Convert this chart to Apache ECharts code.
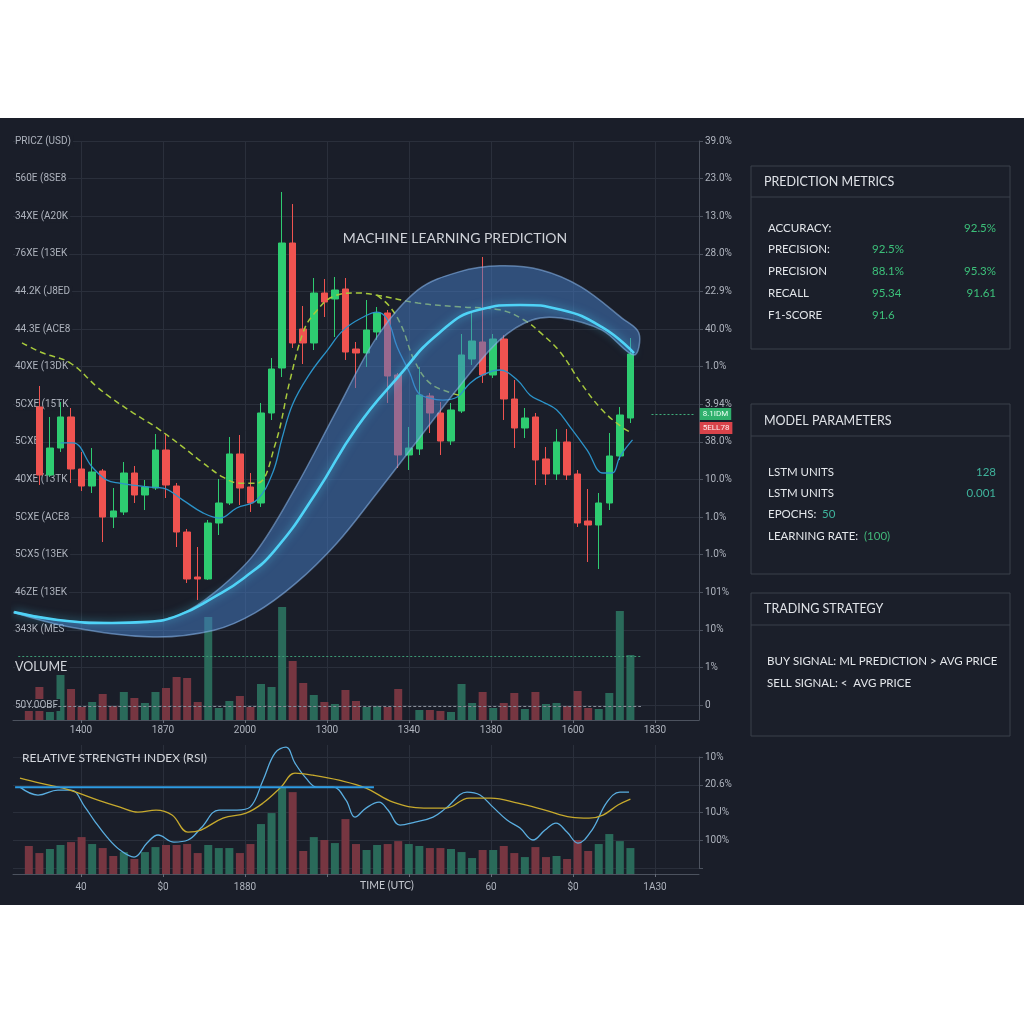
<!DOCTYPE html>
<html><head><meta charset="utf-8">
<script src="https://cdn.jsdelivr.net/npm/echarts@6/dist/echarts.min.js"></script>
<style>html,body{margin:0;padding:0;background:#ffffff;width:1024px;height:1024px;overflow:hidden}
#chart{position:absolute;left:0;top:118px;width:1024px;height:787px}</style>
</head><body><div id="chart"></div>
<script>
// ---------------- DATA ----------------
const categories = Array.from({length: 65}, (_, i) => 'T' + i);
const candleStart = 2;
// [open, close, low, high]
const candles = [
 [79.26, 61.17, 58.51, 84.84],[61.17, 68.35, 60.64, 76.60],[68.35, 76.60, 67.29, 80.59],[76.60, 62.77, 59.04, 78.99],
 [62.77, 58.24, 56.91, 67.29],[58.24, 61.97, 56.38, 68.35],[62.23, 50.00, 43.35, 62.77],[50.00, 51.60, 47.07, 57.71],
 [51.33, 61.70, 50.53, 64.63],[61.70, 55.85, 53.72, 63.56],[55.85, 57.98, 51.86, 59.84],[57.71, 67.82, 57.18, 72.07],
 [67.82, 58.51, 55.05, 72.07],[58.24, 46.01, 42.02, 59.04],[46.01, 33.51, 32.45, 46.81],[34.04, 33.51, 27.93, 42.02],
 [33.51, 48.40, 33.24, 49.20],[48.40, 53.72, 45.21, 60.11],[53.72, 66.76, 53.19, 71.28],[66.76, 57.71, 53.19, 71.81],
 [57.98, 53.72, 51.33, 61.70],[53.72, 77.66, 52.66, 80.32],[77.66, 89.36, 75.80, 92.29],[89.63, 122.87, 87.23, 136.44],
 [122.87, 96.28, 94.95, 133.24],[100.00, 96.28, 90.69, 106.12],[96.28, 109.57, 94.41, 113.56],[109.57, 107.18, 103.19, 113.30],
 [107.98, 110.37, 97.87, 113.83],[110.64, 93.88, 91.76, 113.56],[94.68, 93.62, 84.31, 96.54],[93.62, 99.73, 89.89, 107.71],
 [99.20, 104.26, 97.07, 105.85],[104.26, 87.50, 80.32, 105.05],[87.77, 66.49, 63.03, 88.30],[66.49, 68.35, 62.50, 73.94],
 [68.09, 82.45, 66.49, 89.89],[82.18, 77.66, 72.34, 82.98],[77.66, 70.21, 66.49, 80.59],[70.21, 78.46, 69.15, 80.32],
 [78.19, 93.09, 77.66, 98.67],[92.02, 96.81, 90.43, 104.26],[96.54, 87.77, 85.64, 119.15],[87.77, 97.34, 86.97, 98.67],
 [97.34, 81.38, 75.80, 98.40],[81.38, 73.67, 68.35, 86.44],[73.67, 76.33, 71.01, 78.99],[76.60, 65.16, 58.51, 77.66],
 [65.43, 61.44, 58.51, 68.62],[61.44, 69.95, 59.84, 73.40],[69.95, 61.17, 59.84, 73.40],[61.44, 48.40, 47.34, 62.50],
 [48.94, 47.87, 38.03, 57.45],[47.87, 53.72, 36.17, 56.38],[53.72, 66.22, 51.86, 72.34],[66.22, 77.13, 65.16, 79.26],
 [76.33, 93.35, 75.00, 97.61]
];
const barStart = 1;
const volumes = [17,33,8,48,31,13,18,26,14,28, 22,17,28,32,43,42,18,103,12,19, 24,13,36,33,113,59,37,25,18,16,
 30,19,13,14,13,31,'-',10,10,9, 8,36,17,28,12,17,27,11,28,16, 17,14,29,12,11,27,109,65];
const volumeUp = [0,0,1,1,0,0,1,0,0,1, 0,1,1,0,0,0,0,1,1,1, 0,0,1,1,1,0,0,1,0,1, 0,0,1,1,0,0,1,1,0,0,
 1,1,1,0,1,0,0,1,0,1, 1,0,0,0,1,1,1,1];
const volumeAvgLevels = [64, 14];
const rsiBars = [23.0,17.2,20.5,23.8,26.2,30.3,24.6,21.3,14.8,18.0, 12.3,18.0,22.1,23.8,23.8,24.6,17.2,23.8,21.3,21.3,
 17.2,24.6,41.0,50.0,70.5,67.2,18.9,30.3,27.9,25.4, 45.1,24.6,19.7,23.8,24.6,27.0,24.6,23.0,21.3,21.3,
 20.5,18.0,13.1,19.7,19.7,23.0,17.2,13.9,22.1,13.9, 14.8,12.3,27.9,18.9,24.6,32.8,27.0,21.3];
const rsiUp = [0,0,1,1,0,0,1,0,0,1, 0,1,1,0,0,0,0,1,1,1, 0,0,1,1,1,0,0,1,0,1, 0,0,1,1,0,0,1,1,0,0,
 1,1,1,0,1,0,0,1,0,0, 1,0,0,0,1,1,1,1];
// lines: [candle index position, value]
const maBlue = [[4.0,69.7],[5.2,69.7],[7.0,63.3],[8.4,59.8],[9.6,59.0],[12.2,58.0],[13.7,57.7],[15.6,54.5],[17.5,51.1],
 [19.1,49.7],[20.7,52.4],[22.6,54.5],[24.1,61.7],[25.0,71.0],[26.0,80.0],[27.6,88.0],[29.3,94.4],[30.8,99.7],[32.7,103.2],
 [34.0,104.5],[35.0,102.4],[35.9,95.2],[37.1,88.3],[37.9,83.0],[39.0,81.6],[40.2,81.1],[41.6,81.9],[42.8,85.6],[44.0,87.8],
 [45.6,89.1],[47.3,86.4],[48.5,82.4],[49.7,80.6],[51.0,78.5],[52.3,73.9],[53.9,67.8],[55.4,61.7],[56.3,61.7],[57.0,66.0],[58.2,70.5]];
const maSlow = [[0.35,96.3],[2.34,93.6],[4.9,91.0],[7.46,84.6],[8.69,81.9],[10.87,77.7],[13.14,73.7],[15.61,68.6],[17.5,64.4],
 [19.4,60.6],[21.01,59.0],[22.62,59.0],[24.32,69.1],[25.75,86.4],[27.07,99.7],[28.11,104.3],[29.73,108.5],[32.09,109.6],
 [33.99,109.0],[37.87,106.9],[41.76,105.9],[45.64,105.1],[47.92,102.4],[49.53,98.9],[51.42,93.6],[53.32,85.6],[55.31,78.5],
 [57.2,73.9],[57.96,72.6]];
const maMid = [[33.99,109.0],[35.22,105.9],[36.36,100.5],[37.5,91.8],[39.01,85.6],[41.0,83.0],[42.04,82.2]];
const prediction = [[-0.4,24.7],[3.76,22.6],[8.88,21.8],[12.2,22.1],[15.23,23.9],[18.55,28.7],[21.39,33.8],[24.32,41.2],
 [28.21,56.4],[32.09,73.9],[35.98,87.2],[39.86,98.9],[43.65,105.1],[47.54,106.4],[51.42,105.1],[55.31,100.5],[58.34,93.6]];
const bandUpper = [[-0.4,24.7],[3.76,22.6],[8.88,21.8],[12.2,22.1],[15.23,23.9],[18.55,29.8],[22.43,40.4],[26.31,58.0],
 [30.2,78.5],[33.99,97.9],[37.87,110.4],[41.76,115.2],[45.64,116.8],[49.53,115.7],[53.32,111.2],[57.2,102.9],[58.81,98.9]];
const bandLower = [[-0.4,24.5],[5.0,20.7],[12.77,18.1],[18.55,19.9],[22.43,24.5],[26.31,32.4],[30.2,43.1],[33.99,56.4],
 [37.87,70.5],[41.76,84.6],[45.64,97.1],[48.68,102.4],[51.42,102.9],[55.31,99.7],[58.34,93.1]];
const rsiLine = [[0.16,71.3],[1.87,64.8],[3.76,68.9],[5.0,68.9],[6.32,54.9],[7.17,44.3],[8.41,30.3],[9.64,19.7],[10.97,13.9],
 [12.2,25.4],[13.24,32.0],[14.75,26.2],[16.08,27.9],[17.31,37.7],[19.02,52.5],[20.72,52.5],[21.96,54.9],[23.19,77.0],
 [24.32,99.2],[25.37,104.1],[26.22,91.0],[27.26,78.7],[28.3,71.3],[29.82,71.3],[31.05,60.7],[31.9,46.7],[32.95,54.1],
 [34.18,59.0],[35.03,52.5],[36.17,40.2],[37.59,42.6],[39.3,46.7],[40.53,54.1],[42.52,67.2],[43.75,64.8],[44.98,54.9],
 [46.31,44.3],[47.54,37.7],[48.77,27.9],[49.91,36.1],[50.95,41.8],[51.99,34.4],[53.03,25.4],[54.36,36.1],[55.78,59.0],
 [57.01,67.2],[57.87,67.2]];
const rsiSignal = [[0.16,78.7],[2.06,74.6],[4.24,70.5],[5.47,67.2],[7.55,60.7],[9.64,54.9],[11.34,50.8],[13.05,52.5],
 [14.57,48.4],[16.08,34.4],[17.31,36.1],[19.4,45.9],[21.58,50.0],[23.19,58.2],[24.89,71.3],[26.22,82.8],[27.93,81.1],
 [30.39,77.0],[32.95,70.5],[35.51,59.0],[38.44,54.1],[40.53,54.1],[42.71,62.3],[44.79,62.3],[47.35,58.2],[49.91,52.5],
 [52.37,46.7],[54.08,45.9],[55.4,48.4],[56.82,56.6],[58.0,61.5]];
const rsiLevel = [[-0.3,71.3],[33.7,71.3]];
const tagLevels = [77.4, 73.7];
const tagTexts = ['8.1IDM', '5ELL78'];
const priceLeftLabels = ['50Y.0OBF','VOLUME','343K (MES','46ZE (13EK','5CX5 (13EK','5CXE (ACE8','40XE (13TK','5CXE',
 '5CXE (15TK','40XE (13DK','44.3E (ACE8','44.2K (J8ED','76XE (13EK','34XE (A20K','560E (8SE8','PRICZ (USD)'];
const priceRightLabels = ['0','1%','10%','101%','1.0%','1.0%','10.0%','38.0%','3.94%','1.0%','40.0%','22.9%','28.0%','13.0%','23.0%','39.0%'];
const timeLabels = ['','1400','1870','2000','1300','1340','1380','1600','1830'];
const rsiTimeLabels = ['','40','$0','1880','','','60','$0','1A30'];
const rsiRightLabels = ['','100%','10J%','20.6%','10%'];
const chartTitle = 'MACHINE LEARNING PREDICTION';
const rsiTitle = 'RELATIVE STRENGTH INDEX (RSI)';
const timeTitle = 'TIME (UTC)';
const panelTitles = ['PREDICTION METRICS', 'MODEL PARAMETERS', 'TRADING STRATEGY'];
const metricRows = [['ACCURACY:', '', '92.5%'],['PRECISION:', '92.5%', ''],['PRECISION', '88.1%', '95.3%'],['RECALL', '95.34', '91.61'],['F1-SCORE', '91.6', '']];
const paramRows = [['LSTM UNITS', '', '128'],['LSTM UNITS', '', '0.001'],['EPOCHS:', '50', ''],['LEARNING RATE:', '(100)', '']];
const strategyRows = ['BUY SIGNAL: ML PREDICTION > AVG PRICE', 'SELL SIGNAL: <  AVG PRICE'];

// ---------------- STYLE ----------------
const BG = '#1a1e29', GRIDC = '#2a2f3b', AXC = '#4c525e', LBL = '#aeb3bd';
const UP = '#2ecc71', DOWN = '#ef5350', VUP = '#2a6a5a', VDOWN = '#763641';
const FONT = 'Lato';

const candleData = categories.map((_, i) => (i >= candleStart && i < candleStart + candles.length) ? candles[i - candleStart] : '-');
const volData = categories.map((_, i) => (i >= barStart && i < barStart + volumes.length) ?
  {value: volumes[i - barStart], itemStyle: {color: volumeUp[i - barStart] ? VUP : VDOWN}} : '-');
const rsiData = categories.map((_, i) => (i >= barStart && i < barStart + rsiBars.length) ?
  {value: rsiBars[i - barStart], itemStyle: {color: rsiUp[i - barStart] ? VUP : VDOWN}} : '-');

const chart = echarts.init(document.getElementById('chart'));
const hid = (grid, type, extra) => Object.assign({gridIndex: grid, type: type, show: false}, extra || {});

// panel graphics
const graphic = [];
const panels = [
  {y: 48, h: 183, sep: 79, ty: 64},
  {y: 286, h: 170, sep: 318, ty: 303},
  {y: 475, h: 143, sep: 507, ty: 491}
];
panels.forEach((p, k) => {
  graphic.push({type: 'rect', shape: {x: 751, y: p.y, width: 259, height: p.h}, style: {fill: '#1b1f2a', stroke: '#3b404b', lineWidth: 1}, z: 1});
  graphic.push({type: 'line', shape: {x1: 751, y1: p.sep, x2: 1010, y2: p.sep}, style: {stroke: '#3b404b', lineWidth: 1}, z: 2});
  graphic.push({type: 'text', x: 764, y: p.ty, z: 3, style: {text: panelTitles[k], fill: '#dfe2e7', font: '12.5px ' + FONT, verticalAlign: 'middle'}});
});
const txt = (s, x, y, color, align) => ({type: 'text', x: x, y: y, z: 3,
  style: {text: s, fill: color, font: '11.5px ' + FONT, verticalAlign: 'middle', align: align || 'left'}});
const metricY = [110, 131, 153, 175, 197];
metricRows.forEach((r, i) => {
  graphic.push(txt(r[0], 768, metricY[i], '#e3e6ea'));
  if (r[1]) graphic.push(txt(r[1], 872, metricY[i], '#3cc07a'));
  if (r[2]) graphic.push(txt(r[2], 996, metricY[i], '#3cc07a', 'right'));
});
const paramY = [354, 375, 396, 418];
const paramInlineX = [0, 0, 822, 864];
const paramColors = ['#3fb39c', '#3fb39c', '#3fb39c', '#41b87a'];
paramRows.forEach((r, i) => {
  graphic.push(txt(r[0], 768, paramY[i], '#e3e6ea'));
  if (r[1]) graphic.push(txt(r[1], paramInlineX[i], paramY[i], paramColors[i]));
  if (r[2]) graphic.push(txt(r[2], 996, paramY[i], paramColors[i], 'right'));
});
const stratY = [543, 565];
strategyRows.forEach((s, i) => graphic.push(txt(s, 767, stratY[i], '#e3e6ea')));

const option = {
  backgroundColor: BG,
  animation: false,
  textStyle: {fontFamily: 'Roboto'},
  title: [
    {text: chartTitle, left: 455, top: 113, textAlign: 'center', padding: 0, textStyle: {color: '#cfd2d8', fontSize: 14, fontWeight: 'normal', fontFamily: FONT}},
    {text: rsiTitle, left: 22, top: 634, padding: 0, textStyle: {color: '#d3d6dc', fontSize: 12, fontWeight: 'normal', fontFamily: FONT}},
    {text: timeTitle, left: 387, top: 762, textAlign: 'center', padding: 0, textStyle: {color: '#c5c9d0', fontSize: 10.5, fontWeight: 'normal', fontFamily: FONT}}
  ],
  grid: [
    {left: 13, top: 23, width: 686, height: 564, outerBoundsMode: 'none'},   // 0 price
    {left: 13, top: 452, width: 686, height: 150, outerBoundsMode: 'none'},  // 1 volume
    {left: -1, top: 23, width: 656, height: 579, outerBoundsMode: 'none'},   // 2 price vertical lines
    {left: 13, top: 622, width: 686, height: 134, outerBoundsMode: 'none'},  // 3 rsi data
    {left: 13, top: 639, width: 686, height: 111, outerBoundsMode: 'none'},  // 4 rsi horizontal lines
    {left: -1, top: 627, width: 656, height: 129, outerBoundsMode: 'none'}   // 5 rsi vertical lines
  ],
  xAxis: [
    hid(0, 'category', {data: categories}),
    hid(0, 'value', {min: -0.5, max: 64.5}),
    {gridIndex: 1, type: 'category', data: categories, axisLine: {lineStyle: {color: AXC}}, axisTick: {show: false}, axisLabel: {show: false}, splitLine: {show: false}},
    {gridIndex: 2, type: 'value', min: 0, max: 8, interval: 1, axisLine: {show: false},
      axisTick: {show: true, length: 3, lineStyle: {color: '#666c78'}},
      axisLabel: {color: LBL, fontSize: 10, margin: 5, showMinLabel: true, showMaxLabel: true, formatter: v => timeLabels[Math.round(v)] || ''},
      splitLine: {show: true, lineStyle: {color: GRIDC}}},
    {gridIndex: 3, type: 'category', data: categories, axisLine: {lineStyle: {color: AXC}}, axisTick: {show: false}, axisLabel: {show: false}, splitLine: {show: false}},
    hid(3, 'value', {min: -0.5, max: 64.5}),
    hid(4, 'value', {min: 0, max: 1}),
    {gridIndex: 5, type: 'value', min: 0, max: 8, interval: 1, axisLine: {show: false},
      axisTick: {show: true, length: 3, lineStyle: {color: '#666c78'}},
      axisLabel: {color: LBL, fontSize: 10, margin: 8, showMinLabel: true, showMaxLabel: true, formatter: v => rsiTimeLabels[Math.round(v)] || ''},
      splitLine: {show: true, lineStyle: {color: GRIDC}}}
  ],
  yAxis: [
    {gridIndex: 0, type: 'value', min: 0, max: 150, interval: 10, axisLine: {show: false}, axisTick: {show: false}, axisLabel: {show: false},
      splitLine: {show: true, lineStyle: {color: GRIDC}}},
    {gridIndex: 0, type: 'value', position: 'right', min: 0, max: 150, interval: 10,
      axisLine: {show: true, onZero: false, lineStyle: {color: AXC}}, axisTick: {show: true, length: 4, lineStyle: {color: AXC}},
      axisLabel: {color: LBL, fontSize: 10, margin: 6, showMinLabel: true, showMaxLabel: true, formatter: v => priceRightLabels[Math.round(v / 10)]},
      splitLine: {show: false}},
    {gridIndex: 0, type: 'value', position: 'left', min: 0, max: 150, interval: 10, z: 1,
      axisLine: {show: false, onZero: false}, axisTick: {show: false}, splitLine: {show: false},
      axisLabel: {inside: true, margin: 2, color: LBL, fontSize: 10, backgroundColor: BG, padding: [1, 2, 1, 0],
        showMinLabel: true, showMaxLabel: true,
        formatter: v => { const i = Math.round(v / 10); return i === 1 ? '{v|' + priceLeftLabels[i] + '}' : priceLeftLabels[i]; },
        rich: {v: {fontSize: 12.5, color: '#d2d5db', fontFamily: FONT}}}},
    {gridIndex: 1, type: 'value', position: 'right', min: 0, max: 150, axisLine: {show: true, onZero: false, lineStyle: {color: AXC}},
      axisTick: {show: false}, axisLabel: {show: false}, splitLine: {show: false}},
    hid(2, 'value', {min: 0, max: 1}),
    hid(3, 'value', {min: 0, max: 110}),
    {gridIndex: 4, type: 'value', position: 'right', min: 0, max: 4, interval: 1,
      axisLine: {show: true, onZero: false, lineStyle: {color: AXC}}, axisTick: {show: true, length: 4, lineStyle: {color: AXC}},
      axisLabel: {color: LBL, fontSize: 10, margin: 6, showMinLabel: true, showMaxLabel: true, formatter: v => rsiRightLabels[Math.round(v)]},
      splitLine: {show: true, lineStyle: {color: GRIDC}}},
    hid(5, 'value', {min: 0, max: 1})
  ],
  series: [
    {type: 'bar', name: 'Volume', xAxisIndex: 2, yAxisIndex: 3, data: volData, barWidth: 8, z: 1,
      markLine: {symbol: 'none', silent: true, label: {show: false},
        data: [
          [{coord: [0, volumeAvgLevels[0]], lineStyle: {color: '#3d9a74', type: [2, 2], width: 1}}, {coord: [59, volumeAvgLevels[0]]}],
          [{coord: [0, volumeAvgLevels[1]], lineStyle: {color: '#8a909b', type: [3, 2], width: 1}}, {coord: [59, volumeAvgLevels[1]]}]
        ]}},
    {type: 'candlestick', name: 'Price', xAxisIndex: 0, yAxisIndex: 0, data: candleData, barWidth: 7, z: 2,
      itemStyle: {color: UP, color0: DOWN, borderColor: UP, borderColor0: DOWN, borderWidth: 1},
      markLine: {symbol: 'none', silent: true,
        data: [
          [{coord: [60, tagLevels[0]], lineStyle: {color: '#3fae7a', type: [2, 2], width: 1},
             label: {show: true, position: 'end', formatter: tagTexts[0], distance: 6, backgroundColor: '#2fb06c', color: '#e9fff2', fontSize: 8, padding: [2, 3]}},
           {coord: [64, tagLevels[0]]}],
          [{coord: [63, tagLevels[1]], lineStyle: {color: 'rgba(0,0,0,0)', width: 1},
             label: {show: true, position: 'end', formatter: tagTexts[1], distance: 6, backgroundColor: '#d9434a', color: '#ffecec', fontSize: 8, padding: [2, 3]}},
           {coord: [64, tagLevels[1]]}]
        ]}},
    {type: 'line', name: 'MA fast', xAxisIndex: 1, yAxisIndex: 0, data: maBlue, smooth: 0.4, symbol: 'none', z: 3,
      lineStyle: {color: '#2b93c9', width: 1.3}},
    {type: 'line', name: 'MA slow', xAxisIndex: 1, yAxisIndex: 0, data: maSlow, smooth: 0.4, symbol: 'none', z: 3,
      lineStyle: {color: '#a7c93c', width: 1.5, type: [6, 4]}},
    {type: 'line', name: 'MA mid', xAxisIndex: 1, yAxisIndex: 0, data: maMid, smooth: 0.4, symbol: 'none', z: 3,
      lineStyle: {color: '#a7c93c', width: 1.5, type: [6, 4]}},
    {type: 'custom', name: 'Prediction band', xAxisIndex: 1, yAxisIndex: 0, data: [[0, 0]], z: 4, silent: true,
      renderItem: function (params, api) {
        const up = bandUpper.map(p => api.coord(p));
        const lo = bandLower.slice().reverse().map(p => api.coord(p));
        return {type: 'polygon', shape: {points: up.concat(lo), smooth: 0.35},
          style: {fill: 'rgba(70,128,204,0.5)', stroke: 'rgba(140,186,238,0.55)', lineWidth: 1.5}};
      }},
    {type: 'line', name: 'ML prediction', xAxisIndex: 1, yAxisIndex: 0, data: prediction, smooth: 0.5, symbol: 'none', z: 5,
      lineStyle: {color: '#4fd3f7', width: 2.6, shadowBlur: 8, shadowColor: 'rgba(79,211,247,0.6)'}},
    {type: 'bar', name: 'RSI hist', xAxisIndex: 4, yAxisIndex: 5, data: rsiData, barWidth: 8, z: 1},
    {type: 'line', name: 'RSI', xAxisIndex: 5, yAxisIndex: 5, data: rsiLine, smooth: 0.4, symbol: 'none', z: 3,
      lineStyle: {color: '#5aaee0', width: 1.3}},
    {type: 'line', name: 'RSI signal', xAxisIndex: 5, yAxisIndex: 5, data: rsiSignal, smooth: 0.4, symbol: 'none', z: 3,
      lineStyle: {color: '#c6a92d', width: 1.3}},
    {type: 'line', name: 'RSI level', xAxisIndex: 5, yAxisIndex: 5, data: rsiLevel, symbol: 'none', z: 3,
      lineStyle: {color: '#2e9be2', width: 2}}
  ],
  graphic: graphic
};
chart.setOption(option);
</script></body></html>
